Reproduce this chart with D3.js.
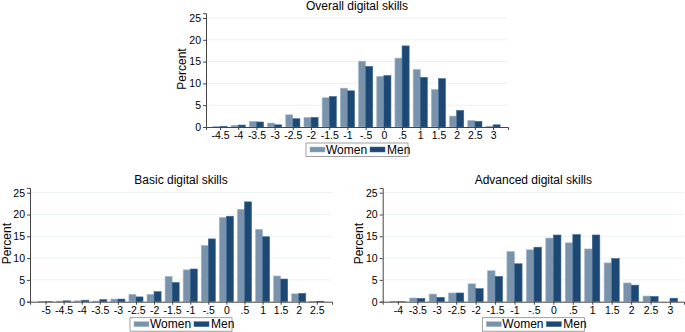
<!DOCTYPE html>
<html>
<head>
<meta charset="utf-8">
<script src="https://cdn.jsdelivr.net/npm/d3@7"></script>
<style>
  body { margin: 0; background: #fff; }
  svg text { font-family: "Liberation Sans", Arial, sans-serif; fill: #000; }
</style>
</head>
<body>
<script>
// --- data (percent per bin) ---
var overallBins  = [-4.5, -4, -3.5, -3, -2.5, -2, -1.5, -1, -0.5, 0, 0.5, 1, 1.5, 2, 2.5, 3];
var overallWomen = [0.1, 0.4, 1.3, 0.9, 2.8, 2.2, 6.7, 8.9, 15.1, 11.6, 15.8, 13.2, 8.6, 2.5, 1.5, 0.2];
var overallMen   = [0.1, 0.45, 1.15, 0.5, 1.9, 2.2, 7.0, 8.3, 13.9, 11.8, 18.6, 11.4, 11.1, 3.8, 1.3, 0.5];

var basicBins  = [-5, -4.5, -4, -3.5, -3, -2.5, -2, -1.5, -1, -0.5, 0, 0.5, 1, 1.5, 2, 2.5];
var basicWomen = [0.1, 0.15, 0.2, 0.15, 0.6, 1.7, 1.7, 5.8, 7.3, 12.9, 19.3, 21.2, 16.6, 5.9, 1.8, 0.1];
var basicMen   = [0.05, 0.2, 0.35, 0.5, 0.6, 1.1, 2.3, 4.4, 7.5, 14.4, 19.6, 22.9, 14.9, 5.2, 1.9, 0.1];

var advBins  = [-4, -3.5, -3, -2.5, -2, -1.5, -1, -0.5, 0, 0.5, 1, 1.5, 2, 2.5, 3];
var advWomen = [0.1, 0.85, 1.75, 2.0, 4.1, 7.1, 11.5, 11.9, 14.6, 13.5, 12.1, 8.9, 4.3, 1.3, 0];
var advMen   = [0.05, 0.75, 1.0, 2.0, 3.0, 5.8, 8.7, 12.5, 15.3, 15.4, 15.3, 9.9, 3.8, 1.2, 0.8];

var yTicks = [0, 5, 10, 15, 20, 25];
var seriesNames = ["Women", "Men"];
var colors = {Women: "#7a93ad", Men: "#1c4873"};
var strokes = {Women: "#a4b6c8", Men: "#3f6a93"};

var svg = d3.select("body").append("svg")
    .attr("width", 685)
    .attr("height", 332);

//Strip leading zero like Stata does (-.5, .5)
var fmt = function(d) {
    if (d === 0) return "0";
    return String(d).replace(/^(-?)0\./, "$1.");
}

function drawPanel(p) {
    var x = d3.scaleLinear().domain(p.xDomain).range([p.left, p.right]);
    var y = d3.scaleLinear().domain([0, 26.1]).range([p.bottom, p.bottom - 26.1 * 4.36]);
    var step = x(0.5) - x(0);
    var bw = step * 0.39;

    var g = svg.append("g");

    //gridlines
    g.append("g").selectAll("line")
        .data(yTicks.slice(1)).enter()
        .append("line")
        .attr("x1", p.left).attr("x2", p.right)
        .attr("y1", function(d) { return y(d); })
        .attr("y2", function(d) { return y(d); })
        .style("stroke", "#eaf2f3")
        .style("stroke-width", 1);

    //bars
    var groups = [
        {name: "Women", vals: p.women, off: -bw},
        {name: "Men", vals: p.men, off: 0}
    ];
    groups.forEach(function(s) {
        g.append("g").selectAll("rect")
            .data(p.bins).enter()
            .append("rect")
            .attr("x", function(d) { return x(d) + s.off; })
            .attr("width", bw)
            .attr("y", function(d, i) { return y(s.vals[i]); })
            .attr("height", function(d, i) { return y(0) - y(s.vals[i]); })
            .style("fill", colors[s.name])
            .style("stroke", strokes[s.name])
            .style("stroke-width", 0.6);
    });

    //y axis
    var yAxis = d3.axisLeft(y).tickValues(yTicks).tickSize(3).tickPadding(2);
    var ya = g.append("g")
        .attr("transform", "translate(" + p.left + ",0)")
        .call(yAxis);
    ya.selectAll("text").style("font-size", "10.5px");

    //x axis
    var xAxis = d3.axisBottom(x).tickValues(p.bins).tickFormat(fmt).tickSize(3).tickPadding(2);
    var xa = g.append("g")
        .attr("transform", "translate(0," + p.bottom + ")")
        .call(xAxis);
    xa.selectAll("text").style("font-size", "10.5px");

    g.selectAll(".domain").style("stroke", "#444");
    g.selectAll(".tick line").style("stroke", "#444");

    //title
    var cx = (p.left + p.right) / 2;
    g.append("text")
        .attr("x", cx).attr("y", p.bottom - 117.5)
        .attr("text-anchor", "middle")
        .style("font-size", "12px")
        .text(p.title);

    //y label
    g.append("text")
        .attr("transform", "translate(" + p.ylabX + "," + (p.bottom - 58) + ") rotate(-90)")
        .attr("text-anchor", "middle")
        .style("font-size", "12px")
        .text("Percent");

    //legend
    var lx = cx - 51, ly = p.bottom + 16;
    var leg = g.append("g").attr("transform", "translate(" + lx + "," + ly + ")");
    leg.append("rect")
        .attr("x", 0).attr("y", 0)
        .attr("width", 102).attr("height", 13.5)
        .style("fill", "#fff")
        .style("stroke", "#888")
        .style("stroke-width", 0.8);
    var items = [
        {name: "Women", px: 4, tx: 20},
        {name: "Men", px: 64, tx: 81}
    ];
    items.forEach(function(it) {
        leg.append("rect")
            .attr("x", it.px).attr("y", 4)
            .attr("width", 15).attr("height", 5)
            .style("fill", colors[it.name])
            .style("stroke", strokes[it.name])
            .style("stroke-width", 0.5);
        leg.append("text")
            .attr("x", it.tx).attr("y", 10.5)
            .style("font-size", "12px")
            .text(it.name);
    });
}

drawPanel({title: "Overall digital skills", bins: overallBins, women: overallWomen, men: overallMen,
    xDomain: [-4.885, 3.41], left: 206, right: 508, bottom: 127, ylabX: 186});
drawPanel({title: "Basic digital skills", bins: basicBins, women: basicWomen, men: basicMen,
    xDomain: [-5.43, 2.92], left: 30, right: 332, bottom: 301.7, ylabX: 10.5});
drawPanel({title: "Advanced digital skills", bins: advBins, women: advWomen, men: advMen,
    xDomain: [-4.39, 3.36], left: 382.7, right: 684, bottom: 301.7, ylabX: 363});
</script>
</body>
</html>
